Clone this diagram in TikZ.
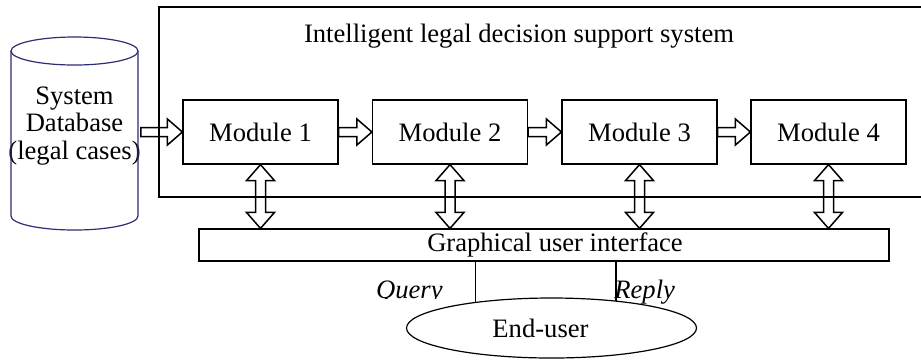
\documentclass[tikz,border=0pt]{standalone}
\usepackage{fontspec}
\setmainfont{Liberation Serif}
\usetikzlibrary{calc,shapes.geometric}
\definecolor{dbblue}{RGB}{45,45,115}
\tikzset{
  base/.style={font=\fontsize{13.3pt}{13.75pt}\selectfont, inner sep=0pt},
  box/.style={base, draw, line width=0.6pt},
  module/.style={box, minimum width=77.5pt, minimum height=32pt},
  hollow/.style={draw, line width=0.75pt, line join=miter},
  plain/.style={line width=0.6pt},
}
\newcommand\harrowdraw[2]{%
  \draw[hollow] ($(#1)+(0,-4.5)$) -- ($(#2)+(-15,-4.5)$) -- ($(#2)+(-15,-13)$) -- (#2)
     -- ($(#2)+(-15,13)$) -- ($(#2)+(-15,4.5)$) -- ($(#1)+(0,4.5)$) -- cycle;}
\newcommand\varrowdraw[2]{%
  \draw[hollow] (#1) -- ($(#1)+(14,16)$) -- ($(#1)+(5,16)$) -- ($(#2)+(5,-16)$) -- ($(#2)+(14,-16)$)
     -- (#2) -- ($(#2)+(-14,-16)$) -- ($(#2)+(-5,-16)$) -- ($(#1)+(-5,16)$) -- ($(#1)+(-14,16)$) -- cycle;}
\begin{document}
\begin{tikzpicture}[x=0.5pt,y=-0.5pt]
\useasboundingbox (0,0) rectangle (921,361);
% outer system box
\node[box, minimum width=381.5pt, minimum height=95pt] (sys) at (540.5,102) {};
\node[base] (title) at (519,36) {Intelligent legal decision support system};
% database cylinder
\node[base, align=center, minimum width=63.5pt] (db) at (74.5,126) {System\\Database\\(legal cases)};
\draw[dbblue, plain] (11,51) -- (11,216) arc (180:360:31.75pt and 7pt) -- (138,51);
\draw[dbblue, plain] (74.5,51) ellipse (31.75pt and 7pt);
% modules
\node[module] (m1) at (260.5,132) {Module 1};
\node[module] (m2) at (450,132) {Module 2};
\node[module] (m3) at (639.5,132) {Module 3};
\node[module] (m4) at (828.5,132) {Module 4};
% GUI
\node[box, minimum width=345pt, minimum height=16pt] (gui) at (544,245) {\hspace*{11pt}\raisebox{-1pt}{Graphical user interface}};
% end user
\node[base, ellipse, draw, line width=0.6pt, minimum width=145pt, minimum height=30pt] (eu) at (551.5,328) {\raisebox{-2.5pt}{End-user}\hspace*{11pt}};
% horizontal arrows
\harrowdraw{db.east |- m1.west}{m1.west}
\harrowdraw{m1.east}{m2.west}
\harrowdraw{m2.east}{m3.west}
\harrowdraw{m3.east}{m4.west}
% vertical double arrows
\varrowdraw{m1.south}{m1.south |- gui.north}
\varrowdraw{m2.south}{m2.south |- gui.north}
\varrowdraw{m3.south}{m3.south |- gui.north}
\varrowdraw{m4.south}{m4.south |- gui.north}
% query / reply lines
\draw[plain] (eu.161.3 |- gui.south) -- (eu.161.3);
\draw[plain] (eu.23.9 |- gui.south) -- (eu.23.9);
\begin{scope}
\clip (360,270) rectangle (460,298.5);
\node[base, anchor=base east] (query) at (443,298) {\itshape Query};
\end{scope}
\node[base, anchor=base west] (reply) at (614,298) {\itshape Reply};
\end{tikzpicture}
\end{document}
